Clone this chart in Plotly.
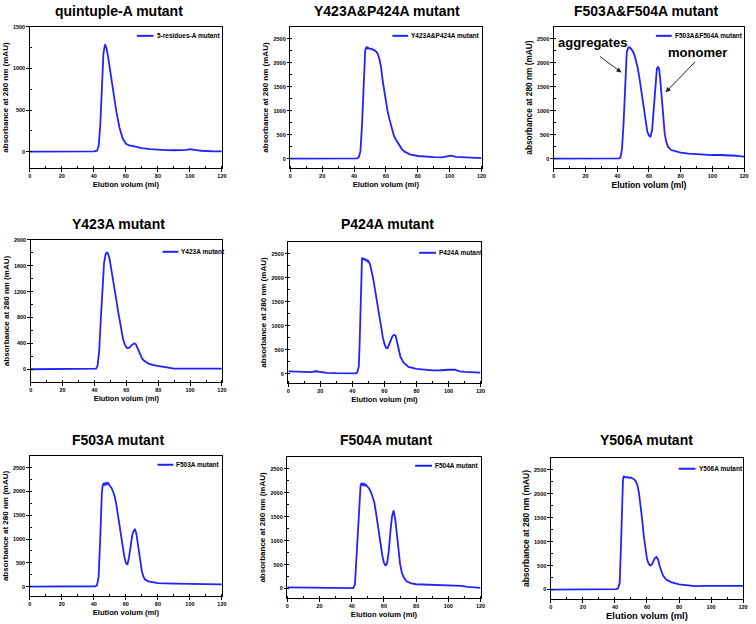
import plotly.graph_objects as go

W, H = 756, 624
FONT = "Liberation Sans, Arial, sans-serif"
BLUE = "#2222FF"

titles = ["quintuple-A mutant", "Y423A&P424A mutant", "F503A&F504A mutant",
          "Y423A mutant", "P424A mutant",
          "F503A mutant", "F504A mutant", "Y506A mutant"]
legend_names = ["5-residues-A mutant", "Y423A&P424A mutant", "F503A&F504A mutant",
                "Y423A mutant", "P424A mutant",
                "F503A mutant", "F504A mutant", "Y506A mutant"]
x_title = "Elution volum (ml)"
y_title = "absorbance at 280 nm (mAU)"

# ---- data (elution volume in ml, absorbance in mAU) ----
vol_quint = [0, 10, 20, 30, 40, 42, 43, 44, 45, 46, 47, 48, 49, 50, 51, 52, 54, 56, 58, 60,
             62, 64, 67, 70, 75, 80, 85, 90, 95, 98, 100, 102, 104, 107, 110, 115, 120]
abs_quint = [0, 0, 0, 0, 2, 10, 60, 300, 780, 1180, 1290, 1240, 1130, 1000, 860, 740, 490, 290, 160, 95,
             75, 68, 55, 42, 30, 22, 18, 16, 15, 20, 30, 28, 18, 10, 6, 3, 2]

vol_y423p424 = [0, 10, 20, 30, 40, 42, 43, 44, 45, 45.5, 46, 46.5, 47, 47.5, 48, 48.5, 49, 50, 51, 52,
                53, 54, 55, 56, 57, 58, 59, 60, 61, 62, 63, 64, 65, 66, 68, 70, 72, 75, 80, 85,
                90, 95, 98, 100, 101, 102, 104, 107, 110, 115, 120]
abs_y423p424 = [0, 0, 0, 0, 2, 5, 30, 150, 700, 1100, 1650, 2100, 2260, 2300, 2340, 2290, 2310, 2290, 2295, 2270,
                2260, 2230, 2180, 2070, 1900, 1620, 1380, 1170, 1000, 850, 720, 580, 480, 410, 295, 200, 140, 90, 55, 40,
                32, 28, 35, 55, 60, 50, 35, 32, 25, 15, 10]

vol_f503f504 = [0, 10, 20, 30, 40, 41, 42, 43, 44, 45, 46, 47, 48, 49, 50, 51, 52, 53, 54, 55,
                56, 57, 58, 59, 60, 61, 62, 63, 64, 65, 65.8, 66.5, 67, 68, 69, 70, 71, 72, 74, 77,
                80, 85, 90, 95, 100, 105, 110, 113, 115, 117, 120]
abs_f503f504 = [0, 0, 0, 0, 2, 5, 20, 200, 750, 1680, 2220, 2320, 2320, 2280, 2230, 2150, 2040, 1880, 1680, 1450,
                1200, 940, 720, 560, 480, 460, 600, 1050, 1620, 1880, 1920, 1850, 1700, 1250, 820, 500, 340, 250, 180, 145,
                125, 105, 90, 80, 75, 75, 72, 70, 60, 50, 40]

vol_y423 = [0, 10, 20, 30, 40, 41, 42, 43, 44, 45, 46, 47, 47.8, 48.5, 49.5, 50.5, 52, 53, 54, 55,
            56, 57, 58, 59, 60, 61, 62, 63, 64, 65, 66, 67, 68, 69, 70, 71, 72, 74, 77, 80,
            85, 88, 90, 95, 100, 110, 120]
abs_y423 = [0, 0, 0, 0, 2, 10, 60, 300, 780, 1280, 1640, 1780, 1805, 1790, 1700, 1550, 1350, 1200, 1030, 870,
            720, 570, 460, 385, 340, 325, 335, 365, 390, 400, 385, 330, 260, 200, 160, 135, 115, 85, 65, 52,
            28, 15, 10, 10, 10, 10, 10]

vol_p424 = [0, 5, 10, 14, 17, 20, 24, 30, 40, 42, 43, 44, 44.5, 45, 45.5, 46, 46.5, 47, 47.5, 48,
            48.5, 49, 49.5, 50, 51, 52, 53, 54, 55, 56, 57, 58, 59, 60, 61, 62, 63, 64, 65, 66,
            67, 68, 69, 70, 72, 75, 80, 85, 90, 95, 97, 100, 104, 105, 107, 110, 115, 120]
abs_p424 = [45, 40, 25, 30, 48, 35, 15, 8, 5, 5, 20, 150, 600, 1350, 2100, 2420, 2380, 2410, 2370, 2395,
            2350, 2380, 2340, 2350, 2280, 2150, 1980, 1780, 1560, 1340, 1130, 930, 760, 620, 540, 530, 600, 700, 780, 810,
            790, 640, 480, 350, 230, 140, 100, 80, 65, 70, 80, 80, 80, 70, 45, 35, 25, 20]

vol_f503 = [0, 10, 20, 30, 40, 41, 42, 43, 44, 44.5, 45, 45.5, 46, 46.5, 47, 47.5, 48, 48.5, 49, 49.5,
            50, 51, 52, 53, 54, 55, 56, 57, 58, 59, 60, 61, 62, 63, 64, 65, 65.7, 66.5, 67, 68,
            69, 70, 71, 72, 74, 77, 80, 90, 100, 106, 108, 120]
abs_f503 = [0, 0, 0, 0, 2, 8, 30, 200, 1000, 1550, 1950, 2120, 2160, 2140, 2180, 2130, 2200, 2150, 2190, 2140,
            2120, 2080, 2000, 1900, 1740, 1520, 1280, 1010, 800, 640, 500, 460, 620, 870, 1080, 1180, 1200, 1130, 1010, 780,
            520, 320, 210, 150, 110, 85, 75, 65, 62, 60, 52, 48]

vol_f504 = [0, 10, 20, 30, 40, 41, 42, 43, 44, 45, 45.5, 46, 46.5, 47, 47.5, 48, 48.5, 49, 50, 51,
            52, 53, 54, 55, 56, 57, 58, 59, 60, 61, 62, 63, 64, 65, 66, 67, 68, 69, 70, 71,
            72, 74, 77, 80, 90, 100, 105, 108, 112, 120]
abs_f504 = [25, 18, 10, 5, 3, 10, 90, 680, 1500, 2060, 2150, 2190, 2170, 2200, 2160, 2180, 2150, 2160, 2120, 2080,
            2010, 1920, 1800, 1600, 1350, 1100, 880, 690, 540, 475, 530, 780, 1180, 1500, 1630, 1450, 1150, 800, 520, 350,
            250, 150, 110, 90, 78, 76, 70, 55, 35, 15]

vol_y506 = [0, 10, 20, 30, 40, 41, 42, 43, 44, 44.5, 45, 45.5, 46, 47, 48, 49, 50, 51, 52, 53,
            54, 55, 56, 57, 58, 59, 60, 61, 62, 63, 64, 65, 66, 67, 68, 69, 70, 72, 75, 80,
            85, 90, 95, 100, 110, 120]
abs_y506 = [0, 0, 0, 0, 2, 8, 30, 140, 1150, 1800, 2280, 2370, 2350, 2340, 2350, 2330, 2340, 2320, 2300, 2260,
            2180, 2020, 1780, 1460, 1120, 830, 640, 540, 500, 520, 590, 660, 680, 620, 480, 370, 290, 210, 155, 110,
            85, 72, 75, 78, 78, 78]

volumes = [vol_quint, vol_y423p424, vol_f503f504, vol_y423, vol_p424, vol_f503, vol_f504, vol_y506]
absorb = [abs_quint, abs_y423p424, abs_f503f504, abs_y423, abs_p424, abs_f503, abs_f504, abs_y506]

x_range = [0, 120]
y_ranges = [[-200, 1500], [-200, 2750], [-200, 2750], [-200, 2000],
            [-200, 2750], [-200, 2750], [-200, 2750], [-200, 2750]]
y_dticks = [500, 500, 500, 400, 500, 500, 500, 500]

# ---- layout (pixel positions) ----
boxes = [(28, 222, 24, 166), (291, 484, 24, 166), (557, 749, 24, 166),
         (29, 222, 238, 381), (289, 483, 240, 382),
         (28, 222, 455, 596), (288, 483, 456, 598), (554, 748, 457, 599)]
title_pos = [(118, 8), (389, 8), (651, 8), (118, 222), (389, 222),
             (117, 439), (388, 439), (651, 439)]
legend_pos = [(136, 153, 33), (394, 410, 33), (660, 676, 33), (162, 178, 250), (421, 438, 251),
              (157, 173, 464), (417, 434, 465), (683, 700, 468)]
xt_size = [7.6, 7.6, 8.6, 7.5, 7.6, 7.6, 7.6, 9.4]
yt_size = [8, 8, 8.3, 8, 8, 8, 8, 8.5]


def px(x):
    return x / W


def py(y):
    return 1 - y / H


fig = go.Figure()
annotations = []
shapes = []
layout = {}

for i in range(8):
    n = i + 1
    sfx = "" if n == 1 else str(n)
    xa, ya = "x" + sfx, "y" + sfx
    l, r, t, b = boxes[i]
    fig.add_trace(go.Scatter(x=volumes[i], y=absorb[i], mode="lines",
                             line=dict(color=BLUE, width=1.8),
                             name=legend_names[i], showlegend=False,
                             xaxis=xa, yaxis=ya))
    common = dict(showline=True, linecolor="black", linewidth=1, mirror=True,
                  showgrid=False, zeroline=False, ticks="outside", ticklen=2.5,
                  tickwidth=1, tickcolor="black",
                  tickfont=dict(family=FONT, size=5.5, color="black", weight="bold"))
    layout["xaxis" + sfx] = dict(common, domain=[px(l), px(r)], anchor=ya, range=x_range,
                                 tickmode="linear", tick0=0, dtick=20,
                                 minor=dict(dtick=10, ticks="inside", ticklen=2, tickcolor="black"),
                                 title=dict(text=x_title, standoff=3,
                                            font=dict(family=FONT, size=xt_size[i], color="black", weight="bold")))
    layout["yaxis" + sfx] = dict(common, domain=[py(b), py(t)], anchor=xa, range=y_ranges[i],
                                 tickmode="linear", tick0=0, dtick=y_dticks[i],
                                 minor=dict(dtick=y_dticks[i] / 2, ticks="inside", ticklen=2, tickcolor="black"),
                                 title=dict(text=y_title, standoff=3,
                                            font=dict(family=FONT, size=yt_size[i], color="black", weight="bold")))
    tx, ty = title_pos[i]
    annotations.append(dict(text=titles[i], x=px(tx), y=py(ty), xref="paper", yref="paper",
                            xanchor="center", yanchor="middle", showarrow=False,
                            font=dict(family=FONT, size=14, color="black", weight="bold")))
    lx0, lx1, ly = legend_pos[i]
    shapes.append(dict(type="line", xref="paper", yref="paper", x0=px(lx0), x1=px(lx1),
                       y0=py(ly), y1=py(ly), line=dict(color=BLUE, width=2)))
    annotations.append(dict(text=legend_names[i], x=px(lx1 + 1), y=py(ly), xref="paper", yref="paper",
                            xanchor="left", yanchor="middle", showarrow=False,
                            font=dict(family=FONT, size=6.5, color="black", weight="bold")))

# peak labels in panel 3
label_font = dict(family=FONT, size=13, color="black", weight="bold")
annotations.append(dict(text="aggregates", x=px(596), y=py(40), xref="paper", yref="paper",
                        xanchor="center", yanchor="middle", showarrow=False, font=label_font))
annotations.append(dict(text="monomer", x=px(702), y=py(50), xref="paper", yref="paper",
                        xanchor="center", yanchor="middle", showarrow=False, font=label_font))
annotations.append(dict(text="", x=42.7, y=1798, xref="x3", yref="y3", showarrow=True,
                        ax=-23, ay=-17, arrowhead=2, arrowsize=1, arrowwidth=1, arrowcolor="#222222"))
annotations.append(dict(text="", x=70.5, y=1384, xref="x3", yref="y3", showarrow=True,
                        ax=31, ay=-32, arrowhead=2, arrowsize=1, arrowwidth=1, arrowcolor="#222222"))

fig.update_layout(width=W, height=H, margin=dict(l=0, r=0, t=0, b=0),
                  paper_bgcolor="white", plot_bgcolor="white",
                  showlegend=False, annotations=annotations, shapes=shapes, **layout)

fig.write_html("out.html", config={"displayModeBar": False},
               post_script="document.body.style.margin='0';document.body.style.overflow='hidden';")
